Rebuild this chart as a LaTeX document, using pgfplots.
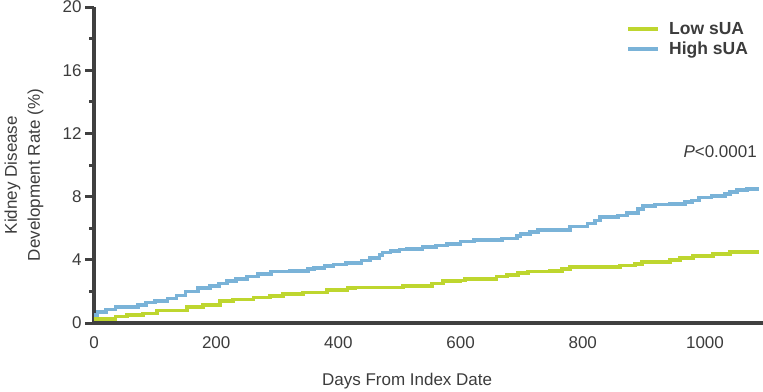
\documentclass[border=0pt]{standalone}
\usepackage{pgfplots}
\pgfplotsset{compat=1.18}
\usepackage{fontspec}
\setmainfont{Liberation Sans}
\definecolor{lowc}{RGB}{190,214,47}
\definecolor{highc}{RGB}{122,179,216}
\definecolor{axc}{RGB}{64,64,64}
\definecolor{txc}{RGB}{60,60,60}
\newcommand{\fs}{\fontsize{17}{23}\selectfont}
\begin{document}
\begin{tikzpicture}
\begin{axis}[
  at={(0,0)}, anchor=south west,
  scale only axis, width=669pt, height=316pt,
  xmin=0, xmax=1095, ymin=0, ymax=20,
  axis x line*=bottom, axis y line*=left,
  axis line style={-, line width=4pt, color=axc},
  xtick={0,200,...,1000}, ytick={0,4,...,20},
  minor ytick={2,6,...,18},
  tick align=outside,
  x tick style={draw=none},
  y tick style={line width=3pt, color=axc},
  major tick length=9pt, minor tick length=5pt,
  minor y tick style={line width=3pt, color=axc},
  ticklabel style={font=\fs, text=txc},
  /pgf/number format/assume math mode=true,
  /pgf/number format/1000 sep={},
  xticklabel style={yshift=-1pt},
  xlabel={Days From Index Date},
  xlabel style={font=\fs, text=txc, at={(axis description cs:0.468,-0.184)}, anchor=center},
  ylabel={Kidney Disease\\Development Rate (\%)},
  ylabel style={font=\fs, text=txc, align=center, at={(axis description cs:-0.1046,0.468)}, anchor=center, rotate=0},
  legend style={draw=none, fill=none, font=\bfseries\fontsize{17.5}{20}\selectfont, text=txc,
    at={(rel axis cs:0.7955,0.958)}, anchor=north west, row sep=2pt,
    inner sep=0pt, outer sep=0pt,
    /tikz/every odd column/.append style={column sep=7pt}},
  legend cell align=left,
  legend image code/.code={\draw[#1, line width=4pt] (0pt,0pt) -- (30pt,0pt);},
  clip=false,
]
\addplot[const plot, color=lowc, line width=3.6pt] coordinates {
(0,0.25)(35,0.4)(54,0.5)(80,0.6)(103,0.8)(152,1.0)(178,1.15)(206,1.4)(228,1.5)
(261,1.62)(288,1.72)(309,1.83)(342,1.94)(381,2.08)(415,2.2)(428,2.25)(506,2.35)
(553,2.5)(571,2.65)(600,2.7)(607,2.8)(659,2.95)(676,3.05)(694,3.15)(710,3.25)
(746,3.3)(766,3.4)(779,3.55)(861,3.65)(885,3.75)(897,3.85)(943,4.0)(959,4.1)
(980,4.25)(1013,4.35)(1041,4.5)(1088,4.5)
};
\addlegendentry{Low sUA}
\addplot[const plot, color=highc, line width=3.6pt] coordinates {
(0,0.5)(6,0.7)(20,0.85)(35,1.0)(72,1.15)(85,1.3)(100,1.4)(120,1.55)(135,1.75)
(150,2.0)(170,2.2)(190,2.35)(205,2.5)(218,2.65)(232,2.8)(250,2.95)(268,3.1)
(290,3.25)(320,3.3)(350,3.4)(360,3.5)(377,3.6)(392,3.7)(412,3.8)(438,3.95)
(452,4.1)(467,4.3)(472,4.45)(485,4.55)(500,4.65)(512,4.7)(538,4.8)(560,4.9)
(578,5.0)(600,5.15)(622,5.25)(668,5.35)(692,5.5)(698,5.65)(714,5.75)(727,5.9)
(779,6.1)(808,6.3)(820,6.5)(828,6.7)(858,6.8)(872,6.95)(890,7.2)(899,7.4)
(918,7.5)(943,7.55)(967,7.65)(979,7.75)(990,7.95)(1011,8.05)(1033,8.15)
(1041,8.3)(1052,8.4)(1069,8.5)(1088,8.5)
};
\addlegendentry{High sUA}
\node[anchor=east, font=\fs, text=txc, inner sep=0pt] at (rel axis cs:0.991,0.541) {\textit{P}<0.0001};
\end{axis}
\pgfresetboundingbox
\path (-94pt,-68pt) rectangle (669pt,323pt);
\end{tikzpicture}
\end{document}
